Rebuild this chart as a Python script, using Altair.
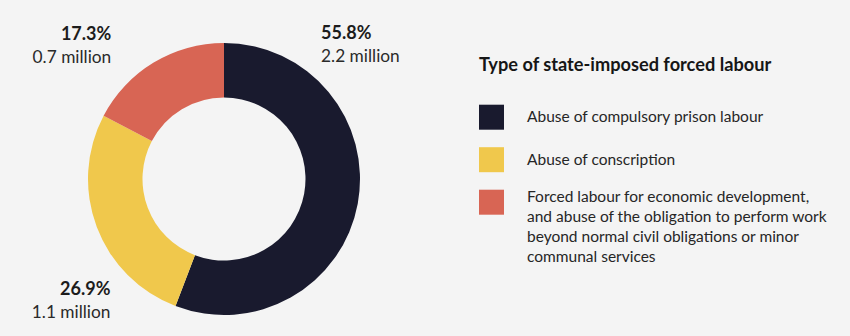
import altair as alt
import pandas as pd

# ---- data ----
legend_lines = [
    ["Abuse of compulsory prison labour"],
    ["Abuse of conscription"],
    ["Forced labour for economic development,",
     "and abuse of the obligation to perform work",
     "beyond normal civil obligations or minor",
     "communal services"],
]
categories = ["\n".join(lines) for lines in legend_lines]
shares = [55.8, 26.9, 17.3]          # percent
millions = [2.2, 1.1, 0.7]           # million people
order = [0, 1, 2]
colors = ["#191a2e", "#f0c84c", "#d86554"]

FONT = "Lato"
BG = "#f4f4f4"

df = pd.DataFrame({"category": categories, "share": shares,
                   "millions": millions, "order": order})

base = alt.Chart(df)

legend = alt.Legend(
    title="Type of state-imposed forced labour",
    orient="none", legendX=479, legendY=57, padding=0,
    titleFont=FONT, titleFontSize=18.2, titleFontWeight="bold", titleColor="#161616",
    titlePadding=29.5, titleLimit=0,
    symbolType="square", symbolSize=625, symbolStrokeWidth=0, symbolOpacity=1,
    labelFont=FONT, labelFontSize=15.5, labelColor="#262626", labelOffset=23,
    labelLimit=0, rowPadding=17.5,
    labelExpr="split(datum.label, '\\n')",
    labelBaseline=alt.ExprRef(expr="indexof(datum.label, '\\n') >= 0 ? 'alphabetic' : 'middle'"),
)

arcs = base.mark_arc(innerRadius=81.5, radius=136, yOffset=11).encode(
    theta=alt.Theta("share:Q", stack=True, scale=alt.Scale(domain=[0, 100])),
    color=alt.Color("category:N", scale=alt.Scale(domain=categories, range=colors),
                    legend=legend),
    order=alt.Order("order:Q"),
)

lab = base.transform_window(
    cum="sum(share)", sort=[alt.SortField("order")], frame=[None, 0]
).transform_calculate(
    start="datum.cum - datum.share",
    pct_label="format(datum.share, '.1f') + '%'",
    mil_label="format(datum.millions, '.1f') + ' million'",
)

right = lab.transform_calculate(pos="datum.start + 10.3").transform_filter("datum.pos < 50")
left = lab.transform_calculate(pos="datum.start + 5.8").transform_filter("datum.pos >= 50")

theta_lab = alt.Theta("pos:Q", stack=False, scale=alt.Scale(domain=[0, 100]))


def labels(src, r, align):
    pct = src.mark_text(radius=r, align=align, baseline="alphabetic", yOffset=11, dy=-11.5,
                        font=FONT, fontSize=18, fontWeight="bold", color="#1c1c1c"
                        ).encode(theta=theta_lab, text="pct_label:N")
    mil = src.mark_text(radius=r, align=align, baseline="alphabetic", yOffset=11, dy=11.5,
                        font=FONT, fontSize=17.3, color="#2a2a2a"
                        ).encode(theta=theta_lab, text="mil_label:N")
    return [pct, mil]


chart = alt.layer(
    arcs, *labels(right, 161, "left"), *labels(left, 170.5, "right")
).properties(
    width=448, height=336, background=BG,
    padding={"left": 0, "top": 0, "right": 22, "bottom": 0},
).configure_view(
    stroke=None
).configure(
    style={"guide-label": {"lineHeight": 19.8}}
)

chart.save("out.html", embed_options={"renderer": "svg", "actions": False})
